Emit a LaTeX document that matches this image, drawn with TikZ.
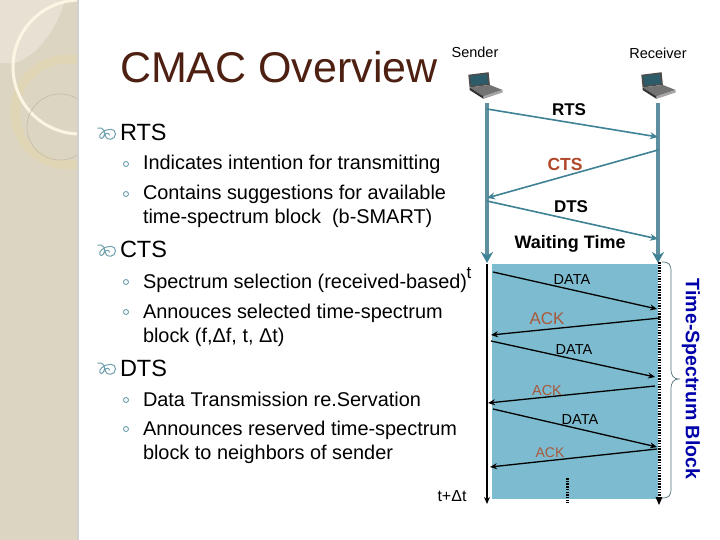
\documentclass[tikz,border=0pt]{standalone}
\usepackage{fontspec}
\setmainfont{Liberation Sans}
\usetikzlibrary{arrows.meta}
\definecolor{side}{HTML}{DCD5C1}
\definecolor{sidelight}{HTML}{E6E1D2}
\definecolor{ringa}{HTML}{FBF6E4}
\definecolor{ringb}{HTML}{E0D6B6}
\definecolor{title}{HTML}{4E2012}
\definecolor{teal}{HTML}{3F8296}
\definecolor{tealv}{HTML}{5E8FA0}
\definecolor{blk}{HTML}{7DBCD0}
\definecolor{rust}{HTML}{B0482A}
\definecolor{ackc}{HTML}{A9583A}
\definecolor{bluet}{HTML}{0000AA}
\definecolor{bul}{HTML}{6FA0AE}
\newcommand{\fsz}[1]{\fontsize{#1}{#1}\selectfont}
\tikzset{
  x=1pt,y=-1pt,
  txt/.style={anchor=base west,inner sep=0,outer sep=0,text=black},
  lab/.style={anchor=base,inner sep=0,outer sep=0},
  ctl/.style={color=teal,line width=1.6pt,-{Stealth[length=8pt,width=7pt]}},
  life/.style={color=tealv,line width=4pt,-{Stealth[length=11pt,width=12pt,color=teal]}},
  msg/.style={color=black,line width=1.3pt,-{Stealth[length=7pt,width=6pt]}},
  subb/.style={draw=bul,line width=.9pt,fill=white,circle,inner sep=0,minimum size=5pt},
  lap/.pic={
    \fill[black!70] (-9,-2) -- (-10,-12) -- (6,-14) -- (7,-4) -- cycle;
    \fill[teal!70!black] (-7.5,-3.5) -- (-8.5,-11) -- (4.5,-12.5) -- (5.5,-5) -- cycle;
    \fill[black!55] (-9,-2) -- (7,-4) -- (17,0) -- (2,5) -- cycle;
    \fill[black!80] (-9,-2) -- (2,5) -- (2,7) -- (-9,0) -- cycle;
    \fill[black!35] (2,5) -- (17,0) -- (17,2) -- (2,7) -- cycle;
  },
  scrollb/.pic={
    \draw[bul,line width=1pt] (-7,-4) .. controls (-3,-5) and (-1,-1) .. (-3,2) .. controls (-5,5) and (-7,1) .. (-4,-1) .. controls (0,-4) and (5,-4) .. (5,0) .. controls (5,4) and (-1,5) .. (-2,1) .. controls (-2,-1) and (1,-1) .. (1,1);
  }
}
\begin{document}
\begin{tikzpicture}
\useasboundingbox (0,0) rectangle (720,540);
\fill[white] (0,0) rectangle (720,540);
% side panel
\begin{scope}
\clip (0,0) rectangle (78,540);
\fill[side] (0,0) rectangle (78,540);
\fill[sidelight] (0,63) -- (0,0) -- (65,0) .. controls (58,25) and (40,55) .. (15,63) -- cycle;
\draw[ringb,line width=9pt] (68,112) circle (53);
\draw[ringa,line width=3pt] (80,67) circle (67);
\draw[black!12!side,line width=.6pt] (60,127) circle (33);
\end{scope}
\fill[black!18] (77,0) rectangle (79,540);
% title
\node[txt,text=title] (title) at (120,83) {\fsz{43}CMAC Overview};
% bullets
\pic[scale=1.5] at (108,134) {scrollb};
\node[txt] (h1) at (120,141) {\fsz{23.5}RTS};
\node[subb] (b1) at (126,164) {};
\node[txt] (t1) at (143,170) {\fsz{19.9}Indicates intention for transmitting};
\node[subb] (b2) at (126,194) {};
\node[txt] (t2) at (143,200) {\fsz{19.9}Contains suggestions for available};
\node[txt] (t2b) at (143,224) {\fsz{19.9}time-spectrum block~ (b-SMART)};
\pic[scale=1.5] at (108,251) {scrollb};
\node[txt] (h2) at (120,258) {\fsz{23.5}CTS};
\node[subb] (b3) at (126,282) {};
\node[txt] (t3) at (143,288) {\fsz{19.9}Spectrum selection (received-based)};
\node[subb] (b4) at (126,312) {};
\node[txt] (t4) at (143,318) {\fsz{19.9}Annouces selected time-spectrum};
\node[txt] (t4b) at (143,342) {\fsz{19.9}block (f,Δf, t, Δt)};
\pic[scale=1.5] at (108,369) {scrollb};
\node[txt] (h3) at (120,376) {\fsz{23.5}DTS};
\node[subb] (b5) at (126,400) {};
\node[txt] (t5) at (143,406) {\fsz{19.9}Data Transmission re.Servation};
\node[subb] (b6) at (126,429) {};
\node[txt] (t6) at (143,435) {\fsz{19.9}Announces reserved time-spectrum};
\node[txt] (t6b) at (143,459) {\fsz{19.9}block to neighbors of sender};
% headers
\node[lab] (snd) at (475,58) {\fsz{14.5}Sender};
\node[lab] (rcv) at (658,59) {\fsz{14.5}Receiver};
\pic[scale=1.27] at (481,90) {lap};
\pic[scale=1.27] at (654,90) {lap};
% block
\node[inner sep=0,outer sep=0,minimum width=166pt,minimum height=235pt,fill=blk] (blk) at (575,381.5) {};
% coordinates
\coordinate (sa) at (487,103); \coordinate (sb) at (487,263);
\coordinate (ra) at (658,103); \coordinate (rb) at (658,263);
\coordinate (la) at (487,264); \coordinate (lb) at (487,504);
\coordinate (da) at (659,262); \coordinate (db) at (659,504);
\draw[life] (sa) -- (sb);
\draw[life] (ra) -- (rb);
\coordinate (r1) at (487,109); \coordinate (r2) at (658,137);
\coordinate (c1) at (658,150); \coordinate (c2) at (487,198);
\coordinate (d1) at (487,201); \coordinate (d2) at (658,239);
\draw[ctl] (r1) -- (r2);
\draw[ctl] (c1) -- (c2);
\draw[ctl] (d1) -- (d2);
\node[lab] at (569,116) {\fsz{17}\textbf{RTS}};
\node[lab,text=rust] at (565,171) {\fsz{17.5}\textbf{CTS}};
\node[lab] at (571,212) {\fsz{17}\textbf{DTS}};
\node[lab] at (570,248) {\fsz{18}\textbf{Waiting Time}};
% data phase
\draw[line width=1.8pt,-{Stealth[length=7pt,width=6pt]}] (la) -- (lb);
\draw[line width=3pt,dash pattern=on 1.5pt off 1.2pt] (da) -- (659,499);
\fill (655.5,497) -- (662.5,497) -- (659,505) -- cycle;
\coordinate (a1) at (493,272); \coordinate (a2) at (657,309);
\coordinate (a3) at (660,318); \coordinate (a4) at (491,335);
\coordinate (a5) at (491,341); \coordinate (a6) at (655,377);
\coordinate (a7) at (655,386); \coordinate (a8) at (488,403);
\coordinate (a9) at (493,409); \coordinate (a10) at (657,447);
\coordinate (a11) at (657,449); \coordinate (a12) at (490,467);
\foreach \u/\v in {a1/a2,a3/a4,a5/a6,a7/a8,a9/a10,a11/a12}{\draw[msg] (\u) -- (\v);}
\node[lab] at (572,284) {\fsz{14.5}DATA};
\node[lab,text=ackc] at (547,324) {\fsz{17}ACK};
\node[lab] at (574,354) {\fsz{14.5}DATA};
\node[lab,text=ackc] at (547,395) {\fsz{14.5}ACK};
\node[lab] at (580,424) {\fsz{14.5}DATA};
\node[lab,text=ackc] at (550,457) {\fsz{14}ACK};
\draw[line width=3pt,dash pattern=on 1.5pt off 1.2pt] (567,478) -- (567,503);
\node[lab] (t0) at (469,278) {\fsz{17}t};
\node[lab] (t9) at (452,501) {\fsz{16}t+Δt};
% brace
\coordinate (br1) at (662,262); \coordinate (br2) at (662,498); \coordinate (brm) at (680,379);
\draw[bul!70!black,line width=.7pt] (br1) .. controls (669,262) and (671,264) .. (671,272) -- (671,368) .. controls (671,376) and (673,379) .. (brm) .. controls (673,379) and (671,382) .. (671,390) -- (671,488) .. controls (671,496) and (669,498) .. (br2);
\node[rotate=-90,text=bluet,inner sep=0] (tsb) at (691,379) {\fsz{19.5}\textbf{Time-Spectrum Block}};
\end{tikzpicture}
\end{document}
